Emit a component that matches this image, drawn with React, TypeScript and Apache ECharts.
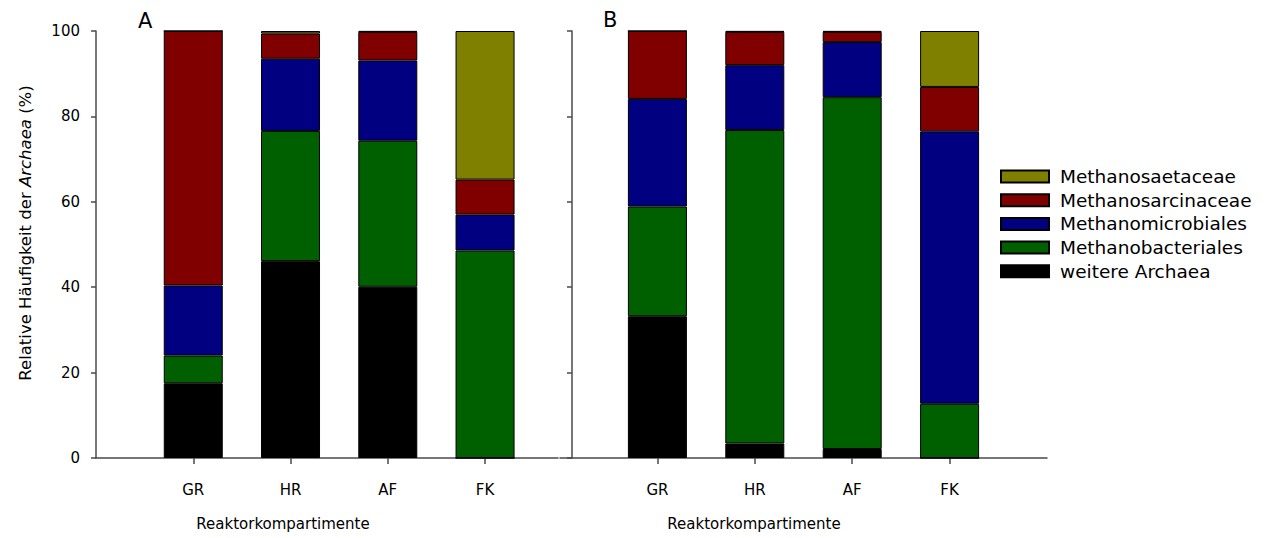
import React, { useEffect, useRef } from "react";
import * as echarts from "echarts";

const categories = ["GR", "HR", "AF", "FK"];
const families = ["weitere Archaea", "Methanobacteriales", "Methanomicrobiales", "Methanosarcinaceae", "Methanosaetaceae"];
const legendOrder = ["Methanosaetaceae", "Methanosarcinaceae", "Methanomicrobiales", "Methanobacteriales", "weitere Archaea"];
const colors = ["#000000", "#006000", "#000080", "#800000", "#808000"];
const yTicks = [0, 20, 40, 60, 80, 100];

// Panel A values (%), per family, per compartment GR, HR, AF, FK
const aWeitere = [17.5, 46.1, 40.1, 0];
const aBacteriales = [6.5, 30.5, 34.2, 48.6];
const aMicrobiales = [16.4, 16.9, 18.8, 8.4];
const aSarcinaceae = [59.6, 5.9, 6.7, 8.2];
const aSaetaceae = [0, 0.6, 0.2, 34.8];

// Panel B values (%)
const bWeitere = [33.2, 3.4, 2.1, 0];
const bBacteriales = [25.7, 73.4, 82.4, 12.7];
const bMicrobiales = [25.2, 15.2, 12.9, 63.8];
const bSarcinaceae = [15.9, 7.8, 2.4, 10.4];
const bSaetaceae = [0, 0.2, 0.2, 13.1];

const panelA = [aWeitere, aBacteriales, aMicrobiales, aSarcinaceae, aSaetaceae];
const panelB = [bWeitere, bBacteriales, bMicrobiales, bSarcinaceae, bSaetaceae];

// x axes are divided in quarter steps; compartments sit at 1, 2, 3, 4
const slotsA = 20; // 0 .. 4.75
const slotsB = 21; // 0 .. 5
const barSlots = [4, 8, 12, 16];

const FONT = "DejaVu Sans";
const AXIS_COLOR = "#4a4a4a";

export default function App() {
  const ref = useRef<HTMLDivElement>(null);
  useEffect(() => {
    if (!ref.current) return;
    const chart = echarts.init(ref.current, undefined, { renderer: "svg" });
    const slotNames = (n: number) =>
      Array.from({ length: n }, (_, k) => {
        const j = barSlots.indexOf(k);
        return j >= 0 ? categories[j] : `_${k}`;
      });
    const xAxisBase = (n: number, gridIndex: number) => ({
      type: "category" as const,
      gridIndex,
      boundaryGap: false,
      data: slotNames(n),
      splitLine: { show: false },
      axisLine: { show: true, onZero: false, lineStyle: { color: AXIS_COLOR, width: 1.5 } },
      axisTick: {
        show: true,
        interval: (i: number) => barSlots.includes(i),
        length: 6,
        lineStyle: { color: AXIS_COLOR, width: 1.5 },
      },
      axisLabel: {
        interval: (i: number) => barSlots.includes(i),
        margin: 24,
        color: "#000",
        fontFamily: FONT,
        fontSize: 15,
      },
    });
    const makeSeries = (panel: number[][], n: number, xi: number, stack: string) =>
      panel.map((vals, fi) => ({
        type: "bar" as const,
        name: families[fi],
        xAxisIndex: xi,
        yAxisIndex: xi,
        stack,
        barWidth: 59,
        data: Array.from({ length: n }, (_, k) => {
          const j = barSlots.indexOf(k);
          return j >= 0 ? vals[j] : "-";
        }),
        itemStyle: { color: colors[fi], borderColor: "#000", borderWidth: 1 },
      }));
    chart.setOption({
      animation: false,
      grid: [
        { left: 96, top: 31, width: 462, height: 427 },
        { left: 560, top: 31, width: 487, height: 427 },
        { left: 572, top: 31, width: 1, height: 427 },
      ],
      xAxis: [xAxisBase(slotsA, 0), xAxisBase(slotsB, 1), { type: "value", gridIndex: 2, min: 0, max: 1, show: false }],
      yAxis: [
        {
          type: "value",
          gridIndex: 0,
          min: 0,
          max: 100,
          interval: 20,
          splitLine: { show: false },
          axisLine: { show: true, lineStyle: { color: AXIS_COLOR, width: 1.5 } },
          axisTick: { show: true, length: 5, lineStyle: { color: AXIS_COLOR, width: 1.5 } },
          axisLabel: {
            margin: 16,
            color: "#000",
            fontFamily: FONT,
            fontSize: 15,
            formatter: (v: number) => (yTicks.includes(v) ? String(v) : ""),
          },
        },
        {
          type: "value",
          gridIndex: 1,
          min: 0,
          max: 100,
          interval: 20,
          show: false,
        },
        {
          type: "value",
          gridIndex: 2,
          min: 0,
          max: 100,
          interval: 20,
          splitLine: { show: false },
          axisLine: { show: true, lineStyle: { color: AXIS_COLOR, width: 1.5 } },
          axisTick: { show: true, length: 5, lineStyle: { color: AXIS_COLOR, width: 1.5 } },
          axisLabel: { show: false },
        },
      ],
      legend: {
        orient: "vertical",
        left: 995,
        top: 162,
        icon: "rect",
        itemWidth: 48,
        itemHeight: 12,
        itemGap: 4.7,
        data: legendOrder,
        selectedMode: false,
        formatter: "{a|{name}}",
        textStyle: {
          rich: { a: { fontFamily: FONT, fontSize: 18.5, color: "#000", lineHeight: 20, padding: [0, 0, 0, 6] } },
        },
      },
      graphic: [
        { type: "text", left: 138, top: 10, style: { text: "A", fontFamily: FONT, fontSize: 21, fill: "#000" } },
        { type: "text", left: 603, top: 9, style: { text: "B", fontFamily: FONT, fontSize: 21, fill: "#000" } },
        {
          type: "text",
          x: 283,
          y: 524,
          style: { text: "Reaktorkompartimente", fontFamily: FONT, fontSize: 15, fill: "#000", align: "center", verticalAlign: "middle" },
        },
        {
          type: "text",
          x: 754,
          y: 524,
          style: { text: "Reaktorkompartimente", fontFamily: FONT, fontSize: 15, fill: "#000", align: "center", verticalAlign: "middle" },
        },
        {
          type: "text",
          x: 25,
          y: 233,
          rotation: Math.PI / 2,
          style: {
            text: "Relative Häufigkeit der {i|Archaea} (%)",
            fontFamily: FONT,
            fontSize: 16.5,
            fill: "#000",
            align: "center",
            verticalAlign: "middle",
            rich: { i: { fontFamily: FONT, fontSize: 16.5, fontStyle: "italic", fill: "#000" } },
          },
        },
      ],
      series: [...makeSeries(panelA, slotsA, 0, "A"), ...makeSeries(panelB, slotsB, 1, "B")],
    });
    return () => chart.dispose();
  }, []);
  return <div ref={ref} style={{ width: 1269, height: 538, position: "absolute", left: 0, top: 0 }} />;
}
